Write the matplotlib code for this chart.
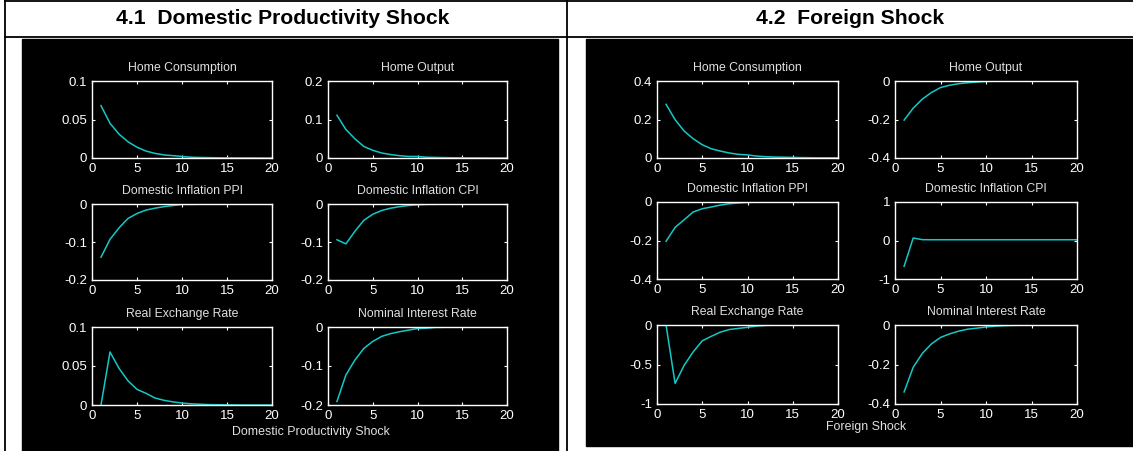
import numpy as np
import matplotlib
matplotlib.use('Agg')
import matplotlib.pyplot as plt
from matplotlib.patches import Rectangle
from matplotlib.lines import Line2D

W, H = 1133, 451

periods = np.arange(1, 21)

# 4.1 domestic productivity shock
dom_consumption = [0.068, 0.045, 0.031, 0.021, 0.014, 0.009, 0.006, 0.004, 0.003, 0.002,
                   0.001, 0.0007, 0.0005, 0.0003, 0.0002, 0.0001, 0.0001, 0.0001, 0.0, 0.0]
dom_output = [0.111, 0.074, 0.050, 0.030, 0.020, 0.013, 0.009, 0.006, 0.004, 0.004,
              0.002, 0.0015, 0.001, 0.0007, 0.0005, 0.0003, 0.0002, 0.0001, 0.0001, 0.0]
dom_ppi = [-0.140, -0.093, -0.063, -0.038, -0.025, -0.016, -0.011, -0.007, -0.004, -0.001,
           -0.001, -0.0005, -0.0003, -0.0002, -0.0001, 0.0, 0.0, 0.0, 0.0, 0.0]
dom_cpi = [-0.094, -0.105, -0.072, -0.043, -0.027, -0.017, -0.011, -0.007, -0.004, -0.002,
           -0.001, -0.0007, -0.0004, -0.0002, -0.0001, 0.0, 0.0, 0.0, 0.0, 0.0]
dom_rer = [0.0, 0.068, 0.047, 0.031, 0.020, 0.015, 0.009, 0.006, 0.004, 0.0025,
           0.0015, 0.001, 0.0005, 0.0003, 0.0002, 0.0001, 0.0, 0.0, 0.0, 0.0]
dom_rate = [-0.191, -0.123, -0.085, -0.055, -0.037, -0.024, -0.017, -0.012, -0.008, -0.004,
            -0.003, -0.001, -0.0007, -0.0004, -0.0002, -0.0001, 0.0, 0.0, 0.0, 0.0]

# 4.2 foreign shock
for_consumption = [0.279, 0.199, 0.140, 0.100, 0.069, 0.048, 0.036, 0.026, 0.019, 0.016,
                   0.010, 0.007, 0.005, 0.004, 0.003, 0.002, 0.0015, 0.001, 0.001, 0.001]
for_output = [-0.203, -0.141, -0.094, -0.060, -0.034, -0.022, -0.014, -0.009, -0.005, -0.002,
              -0.001, -0.0007, -0.0004, -0.0002, -0.0001, 0.0, 0.0, 0.0, 0.0, 0.0]
for_ppi = [-0.204, -0.132, -0.092, -0.052, -0.035, -0.026, -0.016, -0.009, -0.005, -0.002,
           -0.001, -0.0006, -0.0003, -0.0002, -0.0001, 0.0, 0.0, 0.0, 0.0, 0.0]
for_cpi = [-0.67, 0.065, 0.022, 0.02, 0.02, 0.02, 0.02, 0.02, 0.02, 0.02,
           0.02, 0.02, 0.02, 0.02, 0.02, 0.02, 0.02, 0.02, 0.02, 0.02]
for_rer = [0.0, -0.74, -0.51, -0.34, -0.20, -0.143, -0.09, -0.057, -0.043, -0.03,
           -0.013, -0.005, -0.002, -0.001, 0.0, 0.0, 0.0, 0.0, 0.0, 0.0]
for_rate = [-0.339, -0.214, -0.144, -0.096, -0.063, -0.045, -0.031, -0.021, -0.016, -0.010,
            -0.006, -0.003, -0.002, -0.001, -0.0005, 0.0, 0.0, 0.0, 0.0, 0.0]

titles = ['Home Consumption', 'Home Output', 'Domestic Inflation PPI',
          'Domestic Inflation CPI', 'Real Exchange Rate', 'Nominal Interest Rate']

dom_series = [dom_consumption, dom_output, dom_ppi, dom_cpi, dom_rer, dom_rate]
dom_yticks = [[0, 0.05, 0.1], [0, 0.1, 0.2], [-0.2, -0.1, 0],
              [-0.2, -0.1, 0], [0, 0.05, 0.1], [-0.2, -0.1, 0]]
for_series = [for_consumption, for_output, for_ppi, for_cpi, for_rer, for_rate]
for_yticks = [[0, 0.2, 0.4], [-0.4, -0.2, 0], [-0.4, -0.2, 0],
              [-1, 0, 1], [-1, -0.5, 0], [-0.4, -0.2, 0]]

line_col = '#14c8c8'
tick_font = 'Liberation Sans'


def box(x0, y0, x1, y1):
    # pixel box (origin top-left) -> figure fraction rect
    return [x0 / W, 1 - y1 / H, (x1 - x0) / W, (y1 - y0) / H]


def draw_panel(fig, series, yticks, cols, rows):
    for k, (vals, ticks) in enumerate(zip(series, yticks)):
        x0, x1 = cols[k % 2]
        y0, y1 = rows[k // 2]
        ax = fig.add_axes(box(x0, y0, x1, y1))
        ax.set_facecolor('black')
        ax.plot(periods, vals, color=line_col, lw=1.1)
        ax.set_xlim(0, 20)
        ax.set_ylim(ticks[0], ticks[-1])
        ax.set_xticks([0, 5, 10, 15, 20])
        ax.set_xticklabels(['0', '5', '10', '15', '20'])
        ax.set_yticks(ticks)
        ax.set_yticklabels(['%g' % v for v in ticks])
        for s in ax.spines.values():
            s.set_color('white')
            s.set_linewidth(1.0)
        ax.tick_params(direction='in', length=2.5, width=0.8, colors='white',
                       top=True, right=True, labelsize=9.5, pad=3.5)
        for lab in ax.get_xticklabels() + ax.get_yticklabels():
            lab.set_family(tick_font)
        ax.set_title(titles[k], color='#e0e0e0', fontsize=8.8, family=tick_font, pad=7.5)


fig = plt.figure(figsize=(W / 100, H / 100), dpi=100)
fig.patch.set_facecolor('white')

# black figure backgrounds of the two screenshots
fig.patches.append(Rectangle((22 / W, 0), (558 - 22) / W, 1 - 39 / H,
                             transform=fig.transFigure, color='black', zorder=-5))
fig.patches.append(Rectangle((586 / W, 1 - 446 / H), (W - 586) / W, (446 - 39) / H,
                             transform=fig.transFigure, color='black', zorder=-5))

# table rules
for xs, ys in [((5, W), (1, 1)), ((5, W), (37, 37)), ((5, 5), (0, H)), ((567, 567), (0, H))]:
    fig.add_artist(Line2D([x / W for x in xs], [1 - y / H for y in ys],
                          color='black', lw=1.3, transform=fig.transFigure))

head_font = ['Liberation Sans Narrow', 'Liberation Sans', 'DejaVu Sans']
fig.text(283 / W, 1 - 19 / H, '4.1  Domestic Productivity Shock', ha='center', va='center',
         fontsize=15.2, fontweight='bold', family=head_font)
fig.text(850 / W, 1 - 19 / H, '4.2  Foreign Shock', ha='center', va='center',
         fontsize=15.2, fontweight='bold', family=head_font)

draw_panel(fig, dom_series, dom_yticks,
           cols=[(92, 272), (328, 507)],
           rows=[(81, 158), (204, 280), (327, 405)])
draw_panel(fig, for_series, for_yticks,
           cols=[(657, 838), (895, 1077)],
           rows=[(81, 158), (202, 279), (325, 404)])

fig.text(311 / W, 1 - 432 / H, 'Domestic Productivity Shock', ha='center', va='center',
         color='#e0e0e0', fontsize=8.9, family=tick_font)
fig.text(866 / W, 1 - 427 / H, 'Foreign Shock', ha='center', va='center',
         color='#e0e0e0', fontsize=8.9, family=tick_font)

fig.savefig('out.png', dpi=100, facecolor='white')
